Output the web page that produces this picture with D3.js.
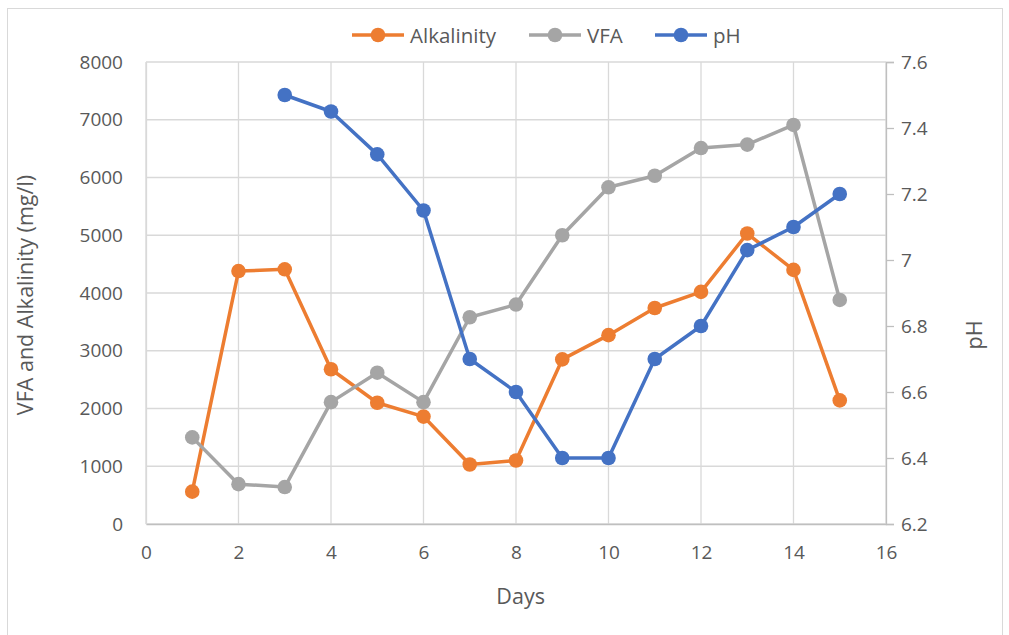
<!DOCTYPE html>
<html>
<head>
<meta charset="utf-8">
<script src="https://cdn.jsdelivr.net/npm/d3@7"></script>
<style>
  body { margin: 0; background: #fff; }
  text { font-family: "Open Sans", "Noto Sans", sans-serif; fill: #595959; }
</style>
</head>
<body>
<svg id="chart"></svg>
<script>
// data
const days = [1, 2, 3, 4, 5, 6, 7, 8, 9, 10, 11, 12, 13, 14, 15];
const alkalinity = [560, 4380, 4410, 2680, 2100, 1860, 1030, 1100, 2850, 3270, 3740, 4020, 5030, 4400, 2140];
const vfa = [1500, 690, 640, 2110, 2620, 2110, 3580, 3800, 5000, 5830, 6030, 6510, 6570, 6910, 3880];
const phDays = [3, 4, 5, 6, 7, 8, 9, 10, 11, 12, 13, 14, 15];
const ph = [7.5, 7.45, 7.32, 7.15, 6.7, 6.6, 6.4, 6.4, 6.7, 6.8, 7.03, 7.1, 7.2];

const xTicks = [0, 2, 4, 6, 8, 10, 12, 14, 16];
const yTicks = [0, 1000, 2000, 3000, 4000, 5000, 6000, 7000, 8000];
const y2Ticks = [6.2, 6.4, 6.6, 6.8, 7, 7.2, 7.4, 7.6];

const width = 1009, height = 635;
const plotL = 146, plotR = 886, plotT = 62, plotB = 524;

const svg = d3.select("#chart")
    .attr("width", width)
    .attr("height", height);

// outer chart border
svg.append("rect")
    .attr("x", 7.5).attr("y", 8.5)
    .attr("width", 995).attr("height", 640)
    .attr("fill", "none")
    .attr("stroke", "#d9d9d9");

const x = d3.scaleLinear().domain([0, 16]).range([plotL, plotR]);
const y = d3.scaleLinear().domain([0, 8000]).range([plotB, plotT]);
const y2 = d3.scaleLinear().domain([6.2, 7.6]).range([plotB, plotT]);

// grid
svg.append("g")
    .selectAll("line")
    .data(xTicks)
    .enter()
    .append("line")
    .attr("x1", d => x(d)).attr("x2", d => x(d))
    .attr("y1", plotT).attr("y2", plotB)
    .attr("stroke", "#d9d9d9")
    .attr("stroke-width", 1.3);

svg.append("g")
    .selectAll("line")
    .data(yTicks)
    .enter()
    .append("line")
    .attr("x1", plotL).attr("x2", plotR)
    .attr("y1", d => y(d)).attr("y2", d => y(d))
    .attr("stroke", "#d9d9d9")
    .attr("stroke-width", 1.3);

// bottom axis
const xAxis = svg.append("g")
    .attr("transform", `translate(0,${plotB})`)
    .call(d3.axisBottom(x).tickValues(xTicks).tickSize(0).tickPadding(22));
xAxis.select(".domain").attr("stroke", "#bfbfbf").attr("stroke-width", 1.3);

// left axis
const yAxis = svg.append("g")
    .attr("transform", `translate(${plotL},0)`)
    .call(d3.axisLeft(y).tickValues(yTicks).tickSize(0).tickPadding(23).tickFormat(d3.format("d")));
yAxis.select(".domain").attr("stroke", "#d9d9d9").attr("stroke-width", 1.3);

// right axis
const y2Axis = svg.append("g")
    .attr("transform", `translate(${plotR},0)`)
    .call(d3.axisRight(y2).tickValues(y2Ticks).tickSize(8).tickSizeOuter(8).tickPadding(7).tickFormat(d => d === 7 ? "7" : d3.format(".1f")(d)));
y2Axis.select(".domain").attr("stroke", "#bfbfbf").attr("stroke-width", 1.3);
y2Axis.selectAll(".tick line").attr("stroke", "#bfbfbf").attr("stroke-width", 1.3);

svg.selectAll(".tick text")
    .attr("font-size", 19)
    .attr("fill", "#595959")
    .attr("font-family", "'Open Sans', 'Noto Sans', sans-serif");

// axis titles
svg.append("text")
    .attr("x", x(8.1)).attr("y", 604)
    .attr("text-anchor", "middle")
    .attr("font-size", 21.5)
    .text("Days");

svg.append("text")
    .attr("transform", `translate(33,${(plotT + plotB) / 2 + 2}) rotate(-90)`)
    .attr("text-anchor", "middle")
    .attr("font-size", 21.5)
    .text("VFA and Alkalinity (mg/l)");

svg.append("text")
    .attr("transform", `translate(982,${(plotT + plotB) / 2 + 42}) rotate(-90)`)
    .attr("text-anchor", "middle")
    .attr("font-size", 21.5)
    .text("pH");

// series
const series = [
    { name: "Alkalinity", color: "#ED7D31", xs: days, ys: alkalinity, scale: y },
    { name: "VFA", color: "#A5A5A5", xs: days, ys: vfa, scale: y },
    { name: "pH", color: "#4472C4", xs: phDays, ys: ph, scale: y2 }
];

series.forEach(s => {
    const pts = s.xs.map((d, i) => [d, s.ys[i]]);
    const line = d3.line().x(d => x(d[0])).y(d => s.scale(d[1]));
    svg.append("path")
        .datum(pts)
        .attr("d", line)
        .attr("fill", "none")
        .attr("stroke", s.color)
        .attr("stroke-width", 3.5)
        .attr("stroke-linejoin", "round");
    svg.append("g")
        .selectAll("circle")
        .data(pts)
        .enter()
        .append("circle")
        .attr("cx", d => x(d[0]))
        .attr("cy", d => s.scale(d[1]))
        .attr("r", 7.3)
        .attr("fill", s.color);
});

// legend
const legendX = [352, 529, 655];
const legend = svg.append("g");
series.forEach((s, i) => {
    const g = legend.append("g").attr("transform", `translate(${legendX[i]},35)`);
    g.append("line")
        .attr("x1", 0).attr("x2", 52)
        .attr("stroke", s.color)
        .attr("stroke-width", 3.5);
    g.append("circle").attr("cx", 26).attr("r", 7.3).attr("fill", s.color);
    g.append("text")
        .attr("x", 58).attr("y", 7.5)
        .attr("font-size", 20.5)
        .text(s.name);
});
</script>
</body>
</html>
